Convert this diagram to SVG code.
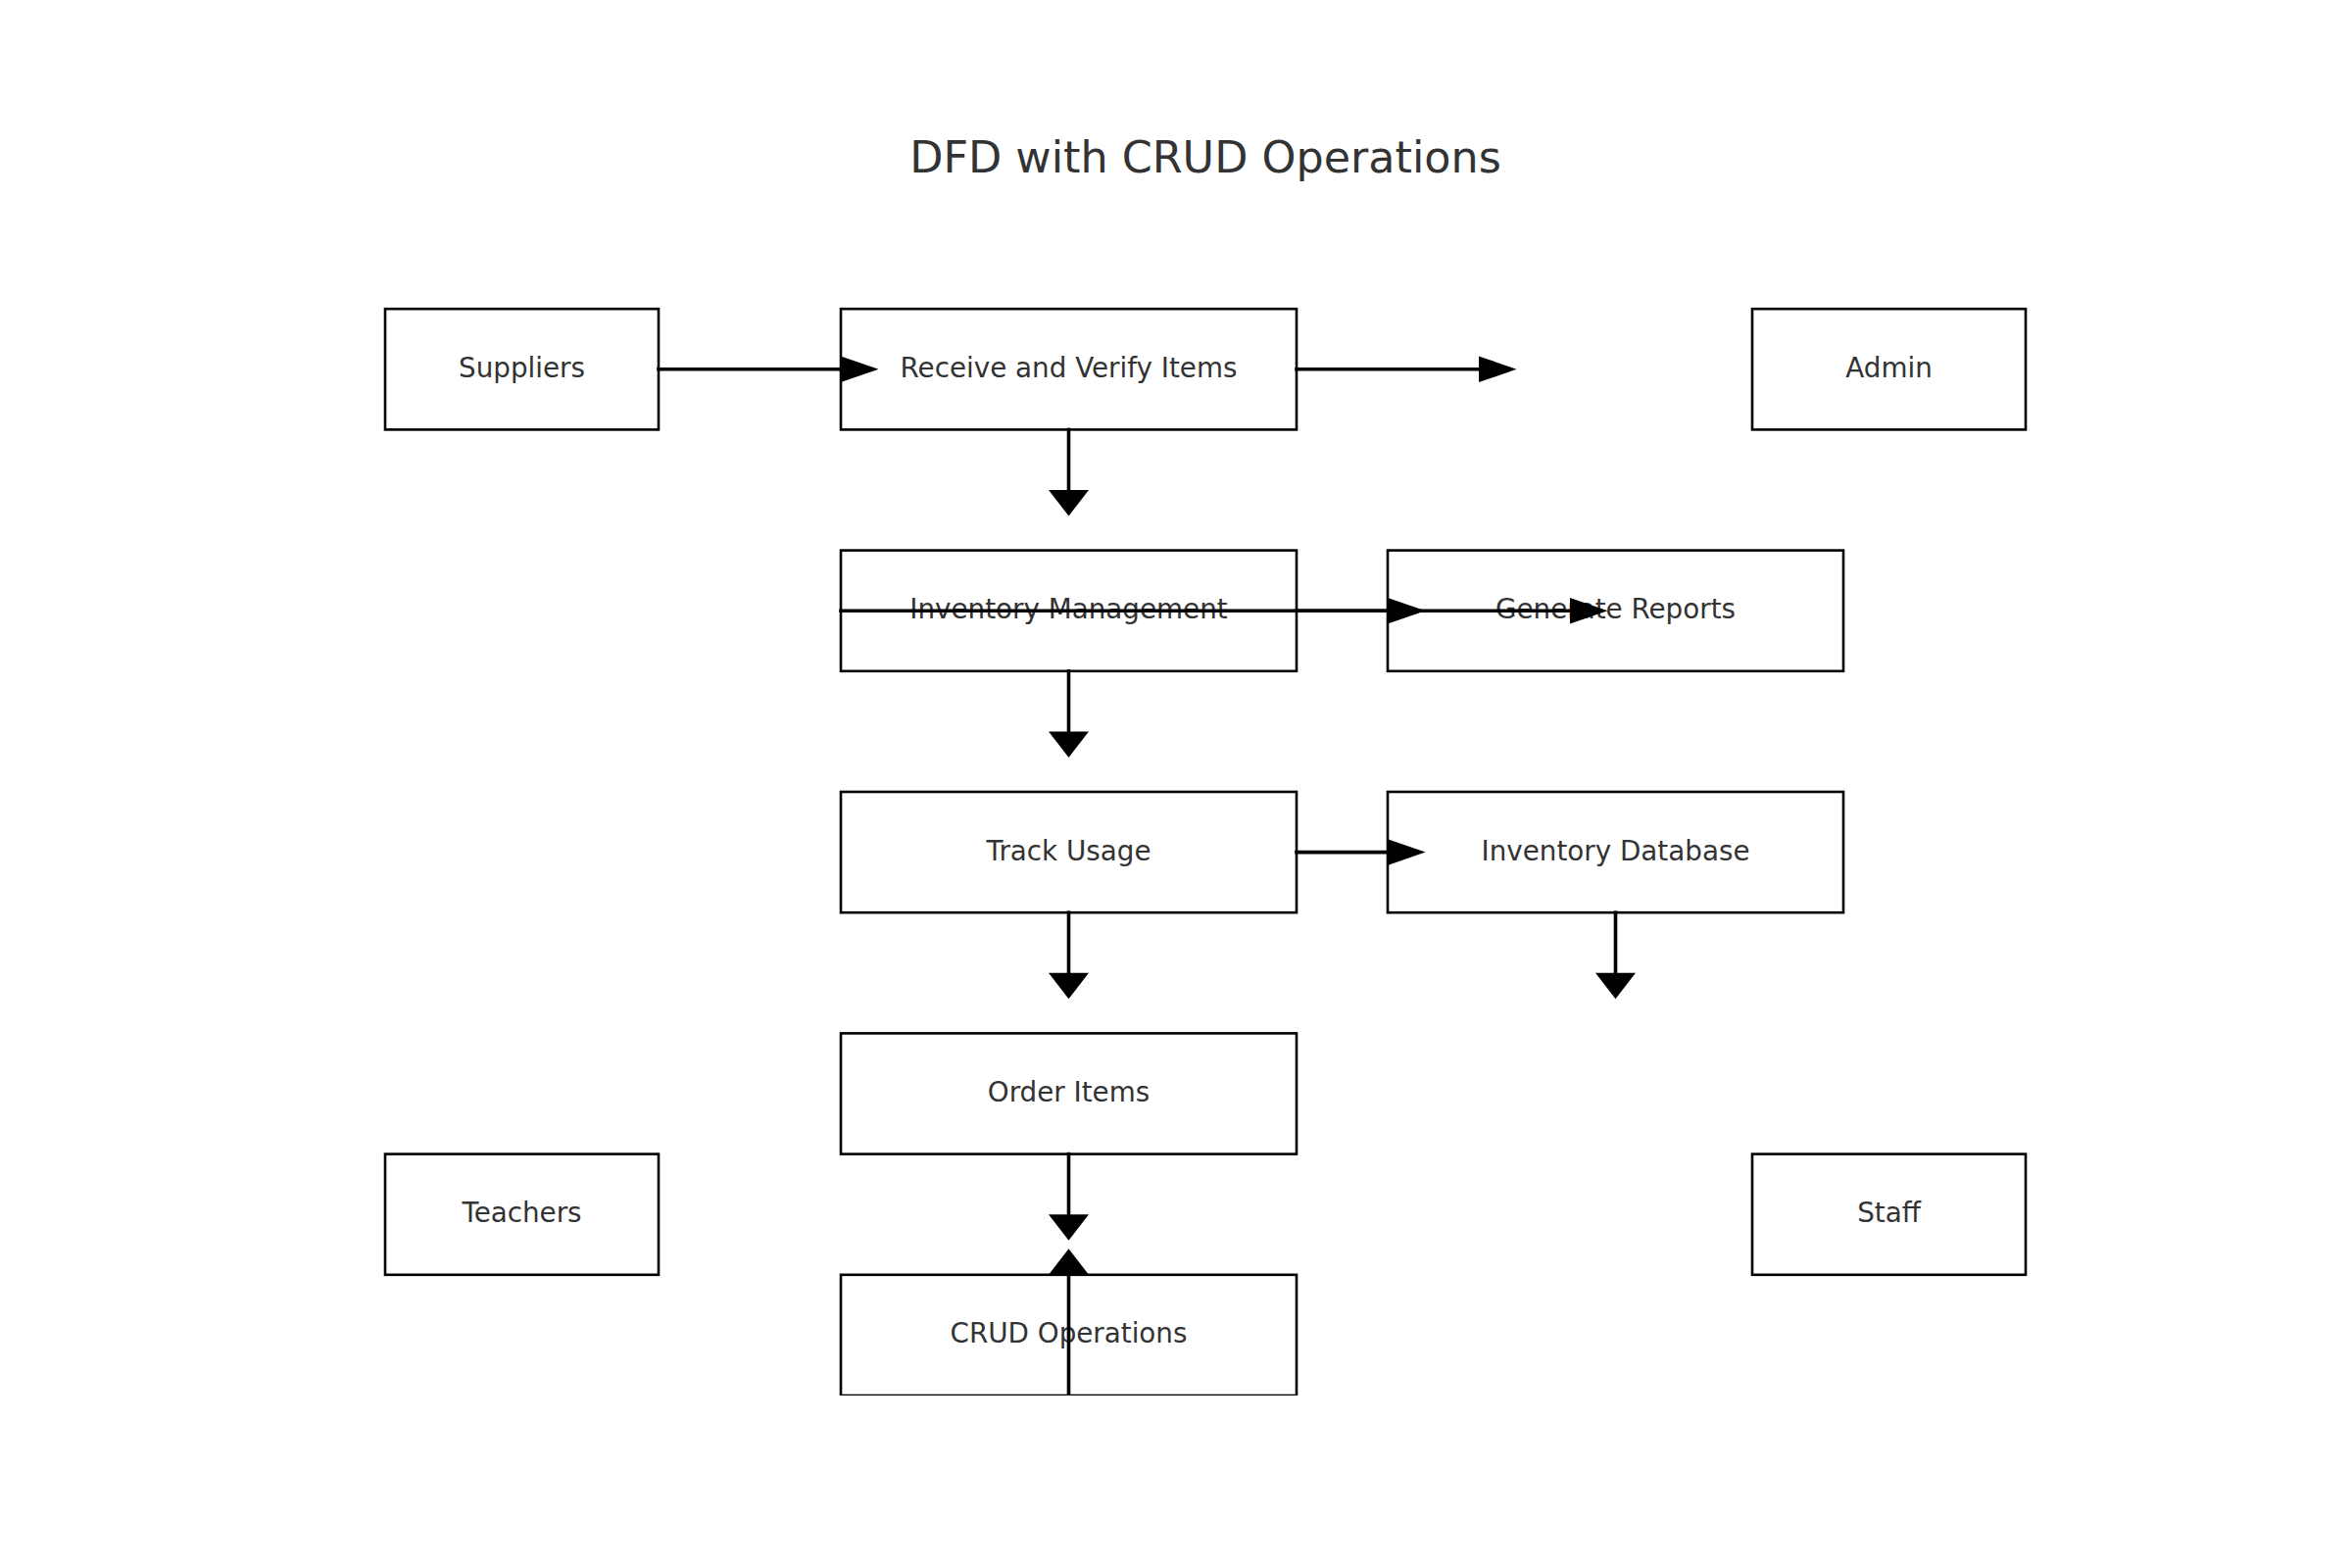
<svg xmlns="http://www.w3.org/2000/svg" width="2400" height="1600" viewBox="0 0 2400 1600">
<style>
.box{fill:none;stroke:#000;stroke-width:2.6}
.lbl{font-family:"DejaVu Sans",sans-serif;font-size:27.78px;fill:#333333;text-anchor:middle}
.title{font-family:"DejaVu Sans",sans-serif;font-size:44.44px;fill:#333333;text-anchor:middle}
.flow{fill:none;stroke:#000;stroke-width:3.6;stroke-linecap:square}
.hz{marker-end:url(#ah)}
.vt{marker-end:url(#av)}
</style>
<defs>
<clipPath id="axes"><rect x="300" y="192" width="1860" height="1232"/></clipPath>
<marker id="ah" markerUnits="userSpaceOnUse" orient="auto" overflow="visible" refX="0" refY="0" markerWidth="40" markerHeight="30"><path d="M0,-13.3 L38.5,0 L0,13.3 Z" fill="#000"/></marker>
<marker id="av" markerUnits="userSpaceOnUse" orient="auto" overflow="visible" refX="0" refY="0" markerWidth="30" markerHeight="42"><path d="M0,-20.5 L26.5,0 L0,20.5 Z" fill="#000"/></marker>
</defs>
<rect width="2400" height="1600" fill="#fff"/>
<text class="title" x="1230" y="176">DFD with CRUD Operations</text>
<g id="nodes">
<g id="suppliers"><rect class="box" x="393" y="315.2" width="279" height="123.2"/><text class="lbl" x="532.5" y="384.8">Suppliers</text></g>
<g id="receive"><rect class="box" x="858" y="315.2" width="465" height="123.2"/><text class="lbl" x="1090.5" y="384.8">Receive and Verify Items</text></g>
<g id="admin"><rect class="box" x="1788" y="315.2" width="279" height="123.2"/><text class="lbl" x="1927.5" y="384.8">Admin</text></g>
<g id="inventory-management"><rect class="box" x="858" y="561.6" width="465" height="123.2"/><text class="lbl" x="1090.5" y="631.2">Inventory Management</text></g>
<g id="generate-reports"><rect class="box" x="1416" y="561.6" width="465" height="123.2"/><text class="lbl" x="1648.5" y="631.2">Generate Reports</text></g>
<g id="track-usage"><rect class="box" x="858" y="808" width="465" height="123.2"/><text class="lbl" x="1090.5" y="877.6">Track Usage</text></g>
<g id="inventory-database"><rect class="box" x="1416" y="808" width="465" height="123.2"/><text class="lbl" x="1648.5" y="877.6">Inventory Database</text></g>
<g id="order-items"><rect class="box" x="858" y="1054.4" width="465" height="123.2"/><text class="lbl" x="1090.5" y="1124">Order Items</text></g>
<g id="teachers"><rect class="box" x="393" y="1177.6" width="279" height="123.2"/><text class="lbl" x="532.5" y="1247.2">Teachers</text></g>
<g id="staff"><rect class="box" x="1788" y="1177.6" width="279" height="123.2"/><text class="lbl" x="1927.5" y="1247.2">Staff</text></g>
<g id="crud-operations" clip-path="url(#axes)"><rect class="box" x="858" y="1300.8" width="465" height="123.2"/><text class="lbl" x="1090.5" y="1370.4">CRUD Operations</text></g>
</g>
<g id="connectors" clip-path="url(#axes)">
<path class="flow hz" d="M672,376.8 H858"/>
<path class="flow hz" d="M1323,376.8 H1509"/>
<path class="flow vt" d="M1090.5,438.4 V500"/>
<path class="flow hz" d="M858,623.2 H1416"/>
<path class="flow hz" d="M1323,623.2 H1602"/>
<path class="flow vt" d="M1090.5,684.8 V746.4"/>
<path class="flow hz" d="M1323,869.6 H1416"/>
<path class="flow vt" d="M1090.5,931.2 V992.8"/>
<path class="flow vt" d="M1648.5,931.2 V992.8"/>
<path class="flow vt" d="M1090.5,1177.6 V1239.2"/>
<path class="flow vt" d="M1090.5,1428 V1300.8"/>
</g>
</svg>
